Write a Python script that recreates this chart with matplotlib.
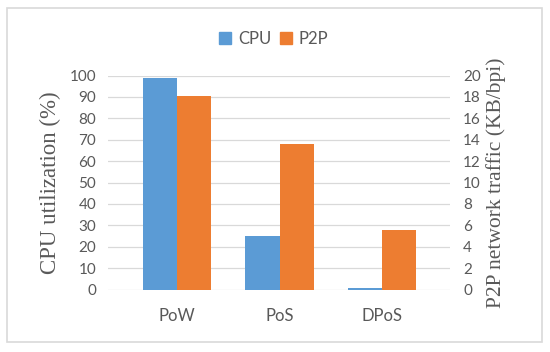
import numpy as np
import matplotlib
matplotlib.use("Agg")
import matplotlib.pyplot as plt
from matplotlib.patches import Patch, Rectangle

# data
categories = ["PoW", "PoS", "DPoS"]
cpu_util = [98.6, 25.0, 0.9]       # %
p2p_traffic = [18.05, 13.6, 5.6]   # KB/bpi

blue = "#5B9BD5"
orange = "#ED7D31"
grid_col = "#D9D9D9"
txt_col = "#595959"
sans = "Lato"
serif = "Liberation Serif"

fig = plt.figure(figsize=(5.5, 3.52), dpi=100)
ax = fig.add_axes([108 / 550, 1 - 289.5 / 352, (450 - 108) / 550, (289.5 - 75.5) / 352])
ax2 = ax.twinx()

x = np.arange(len(categories))
w = 0.332
ax.bar(x - w / 2, cpu_util, w, color=blue, zorder=3)
ax2.bar(x + w / 2, p2p_traffic, w, color=orange, zorder=3)

ax.set_xlim(-0.673, 2.663)
ax.set_ylim(0, 100)
ax2.set_ylim(0, 20)
ax.set_yticks(np.arange(0, 101, 10))
ax2.set_yticks(np.arange(0, 21, 2))
ax.set_xticks(x)
ax.set_xticklabels(categories)

ax.yaxis.grid(True, color=grid_col, lw=0.9, zorder=0)
ax.set_axisbelow(True)
for a in (ax, ax2):
    for s in a.spines.values():
        s.set_visible(False)
ax.patch.set_visible(False)

ax.tick_params(axis="y", length=0, pad=8.5, labelsize=11, labelcolor=txt_col)
ax2.tick_params(axis="y", length=0, pad=9.5, labelsize=11, labelcolor=txt_col)
ax.tick_params(axis="x", length=0, pad=13, labelsize=12, labelcolor=txt_col)
for lab in ax.get_yticklabels() + ax2.get_yticklabels() + ax.get_xticklabels():
    lab.set_fontfamily(sans)

ax.set_ylabel("CPU utilization (%)", family=serif, fontsize=16.5, color=txt_col, labelpad=6)
ax2.set_ylabel("P2P network traffic (KB/bpi)", family=serif, fontsize=15.5, color=txt_col, labelpad=4)

handles = [Patch(color=blue, label="CPU"), Patch(color=orange, label="P2P")]
fig.legend(handles=handles, loc="center", bbox_to_anchor=(274 / 550, 1 - 39 / 352), ncol=2,
           frameon=False, prop={"family": sans, "size": 12}, labelcolor=txt_col,
           handlelength=0.72, handleheight=0.72, handletextpad=0.42, columnspacing=0.5,
           borderpad=0, borderaxespad=0)

fig.patches.append(Rectangle((7 / 550, 1 - 342 / 352), 535 / 550, 334 / 352,
                             transform=fig.transFigure, fill=False, ec=grid_col, lw=1.2))

fig.savefig("out.png", dpi=100)
